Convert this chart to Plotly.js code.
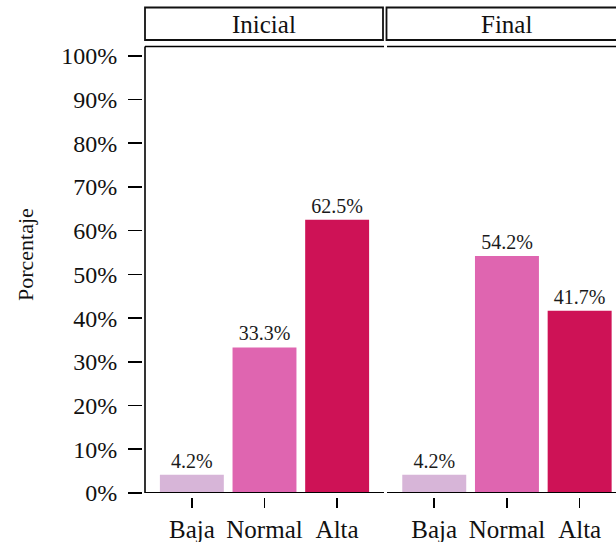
<!DOCTYPE html>
<html>
<head>
<meta charset="utf-8">
<script src="https://cdn.plot.ly/plotly-3.0.1.min.js"></script>
<style>
html,body{margin:0;padding:0;background:#fff;}
#chart{width:616px;height:542px;}
</style>
</head>
<body>
<div id="chart"></div>
<script>
// ---- data ----
const categories = ['Baja', 'Normal', 'Alta'];
const inicialValues = [4.2, 33.3, 62.5];
const finalValues = [4.2, 54.2, 41.7];
const panelNames = ['Inicial', 'Final'];
const yTickValues = [0, 10, 20, 30, 40, 50, 60, 70, 80, 90, 100];
const yTickLabels = ['0%', '10%', '20%', '30%', '40%', '50%', '60%', '70%', '80%', '90%', '100%'];
const yTitle = 'Porcentaje';

// ---- style ----
const barColors = ['#d7b5d8', '#df65b0', '#ce1256'];
const FONT = 'Liberation Serif';
const W = 616, H = 542;
const mL = 142, mR = 0, mT = 47, mB = 45;
const pw = W - mL - mR, ph = H - mT - mB;
const px = v => (v - mL) / pw;          // pixel x -> paper
const py = v => (H - mB - v) / ph;      // pixel y -> paper

function barTrace(vals, xa) {
  return {
    type: 'bar', x: categories, y: vals, xaxis: xa, yaxis: 'y',
    width: 0.88,
    marker: {color: barColors, line: {width: 0}},
    texttemplate: '%{y:.1f}%', textposition: 'outside', cliponaxis: false,
    constraintext: 'none',
    textfont: {family: FONT, size: 20, color: '#1a1a1a'},
    hoverinfo: 'skip', showlegend: false
  };
}

const xCommon = {
  type: 'category', anchor: 'free', position: 0,
  showline: false, showgrid: false, zeroline: false,
  ticks: 'outside', ticklen: 10, tickwidth: 1.6, tickcolor: '#000',
  tickfont: {family: FONT, size: 25, color: '#111'},
  fixedrange: true
};

const leftX0 = px(145), leftX1 = px(384), rightX0 = px(387), rightX1 = 1;

const layout = {
  width: W, height: H,
  margin: {l: mL, r: mR, t: mT, b: mB, pad: 0},
  paper_bgcolor: '#fff', plot_bgcolor: 'rgba(0,0,0,0)',
  showlegend: false, bargap: 0.12,
  font: {family: FONT, color: '#111', size: 24},
  xaxis: Object.assign({}, xCommon, {domain: [leftX0, leftX1], range: [-0.645, 2.645]}),
  xaxis2: Object.assign({}, xCommon, {domain: [rightX0, rightX1], range: [-0.65, 2.5]}),
  yaxis: {
    domain: [4 / ph, 1], range: [0, 102], anchor: 'free', position: 0,
    showline: false, showgrid: false, zeroline: false,
    tickvals: yTickValues, ticktext: yTickLabels,
    ticks: 'outside', ticklen: 14, tickwidth: 1.6, tickcolor: '#000',
    tickfont: {family: FONT, size: 24, color: '#111'},
    ticklabelstandoff: 6,
    fixedrange: true
  },
  shapes: [
    // axis lines
    {type: 'line', xref: 'paper', yref: 'y', x0: leftX0, x1: leftX1, y0: 0, y1: 0, line: {color: '#000', width: 2}},
    {type: 'line', xref: 'paper', yref: 'y', x0: rightX0, x1: 1.01, y0: 0, y1: 0, line: {color: '#000', width: 2}},
    {type: 'line', xref: 'paper', yref: 'paper', x0: leftX0, x1: leftX0, y0: py(493), y1: py(46.5), line: {color: '#000', width: 1.6}},
    // panel top lines
    {type: 'line', xref: 'paper', yref: 'paper', x0: leftX0, x1: leftX1, y0: py(46.5), y1: py(46.5), line: {color: '#000', width: 1.6}},
    {type: 'line', xref: 'paper', yref: 'paper', x0: rightX0, x1: 1.01, y0: py(46.5), y1: py(46.5), line: {color: '#000', width: 1.6}},
    // strips
    {type: 'rect', xref: 'paper', yref: 'paper', x0: px(145), x1: px(383), y0: py(40), y1: py(7.5), line: {color: '#111', width: 1.8}, fillcolor: '#fff'},
    {type: 'rect', xref: 'paper', yref: 'paper', x0: px(386.5), x1: 1.02, y0: py(40), y1: py(7.5), line: {color: '#111', width: 1.8}, fillcolor: '#fff'}
  ],
  annotations: [
    {text: panelNames[0], xref: 'paper', yref: 'paper', x: px(264), y: py(24), xanchor: 'center', yanchor: 'middle', showarrow: false, font: {family: FONT, size: 25, color: '#111'}},
    {text: panelNames[1], xref: 'paper', yref: 'paper', x: px(506), y: py(24), xanchor: 'center', yanchor: 'middle', showarrow: false, font: {family: FONT, size: 25, color: '#111'}},
    {text: yTitle, xref: 'paper', yref: 'paper', x: px(25), y: py(255), xanchor: 'center', yanchor: 'middle', textangle: -90, showarrow: false, font: {family: FONT, size: 22, color: '#111'}}
  ]
};

Plotly.newPlot('chart', [barTrace(inicialValues, 'x'), barTrace(finalValues, 'x2')], layout, {staticPlot: true, displayModeBar: false});
</script>
</body>
</html>
